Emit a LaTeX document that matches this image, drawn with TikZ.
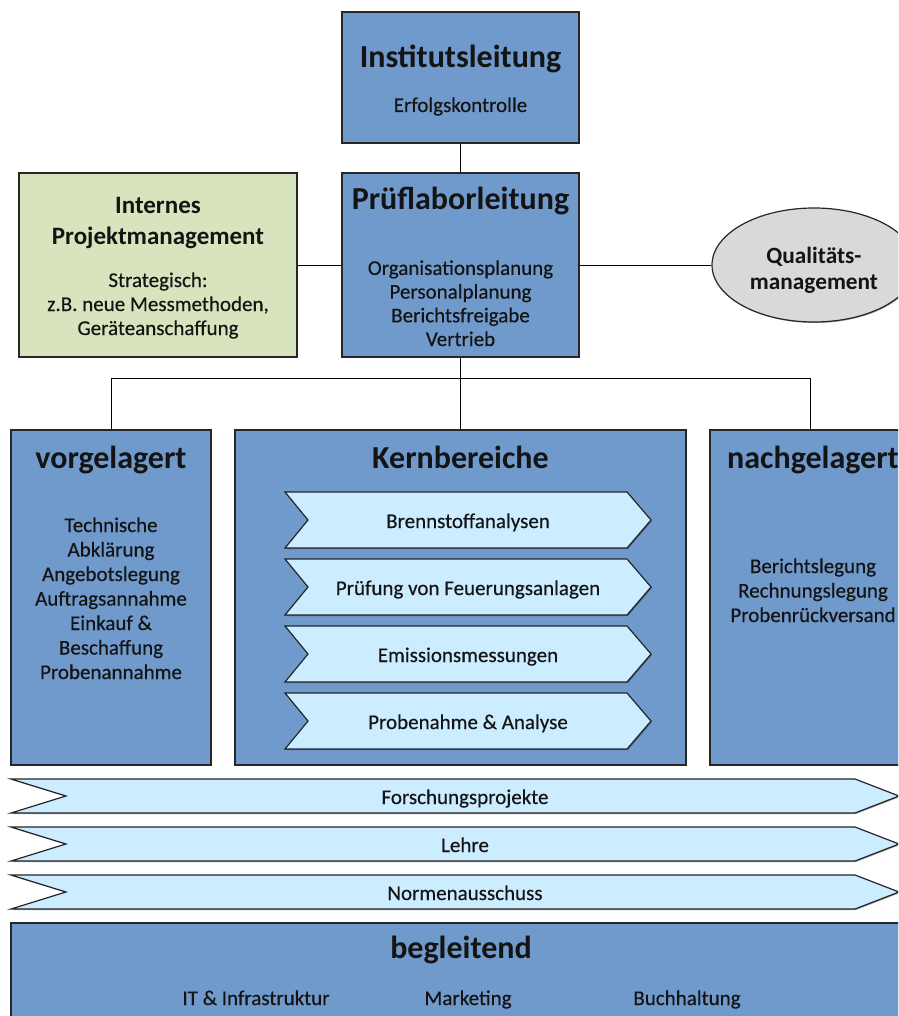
\documentclass[tikz,border=0pt]{standalone}
\usepackage{fontspec}
\setmainfont{Carlito}
\newfontfamily\bdfam{Carlito}[FakeBold=0.35]
\usetikzlibrary{shapes.geometric,shadows}

\definecolor{boxblue}{RGB}{112,153,204}
\definecolor{boxgreen}{RGB}{215,228,189}
\definecolor{ovalgray}{RGB}{217,217,217}
\definecolor{chevblue}{RGB}{204,236,255}
\definecolor{edgegray}{RGB}{38,38,38}

\newcommand\ttlfont{\fontsize{32}{38}\selectfont\bfseries}
\newcommand\hdfont{\fontsize{25}{31}\selectfont\bfseries}
\newcommand\qmfont{\fontsize{23.3}{26}\selectfont\bfseries}
\newcommand\bdfont{\bdfam\fontsize{21}{24}\selectfont}

\begin{document}
\begin{tikzpicture}[
  x=1pt, y=-1pt,
  softshadow/.style={drop shadow={shadow xshift=1pt,shadow yshift=-1pt,opacity=0.35,fill=black}},
  unit/.style={rectangle, draw=edgegray, line width=1.2pt, fill=boxblue, inner sep=0pt, softshadow},
  oval/.style={ellipse, draw=edgegray, line width=1.2pt, fill=ovalgray, inner sep=0pt, softshadow},
  chev/.style={draw=edgegray, line width=1.2pt, fill=chevblue, line join=miter, softshadow},
  conn/.style={draw=black, line width=1pt},
  % multi-line texts are placed by the baseline of their last line
  txt/.style={inner sep=0pt, align=center, anchor=base, text=black!92},
  ttl/.style={txt, font=\ttlfont},
  hd/.style={txt, font=\hdfont},
  bd/.style={txt, font=\bdfont},
]
\useasboundingbox (0,0) rectangle (898,1016);
\begin{scope}
\clip (0,0) rectangle (898,1016);

% management level
\node[unit, minimum width=237pt, minimum height=131pt] (inst) at (460.5,77.5) {};
\node[unit, minimum width=237pt, minimum height=184pt] (pruef) at (460.5,265) {};
\node[unit, fill=boxgreen, minimum width=278pt, minimum height=184pt] (intern) at (158,265) {};
\node[oval, minimum width=204pt, minimum height=114pt] (qm) at (814,265) {};

\node[ttl] (inst-t) at (460.5,68) {Institutsleitung};
\node[bd]  (inst-b) at (460.5,112) {Erfolgskontrolle};

\node[ttl] (pruef-t) at (460.5,210) {Prüflaborleitung};
\node[bd, font=\bdfam\fontsize{21}{23.7}\selectfont] (pruef-b) at (460.5,346) {Organisationsplanung\\Personalplanung\\Berichtsfreigabe\\Vertrieb};

\node[hd] (intern-t) at (158,244) {Internes\\Projektmanagement};
\node[bd] (intern-b) at (158,335) {Strategisch:\\z.B. neue Messmethoden,\\Geräteanschaffung};

\node[txt, font=\qmfont] (qm-t) at (814,289) {Qualitäts-\\management};

% connectors of the management level
\draw[conn] (inst.south) -- (pruef.north);
\draw[conn] (intern.east) -- (pruef.west);
\draw[conn] (pruef.east) -- (qm.west);

% process areas
\node[unit, minimum width=200pt, minimum height=335pt] (vor) at (111,597.5) {};
\node[unit, minimum width=451pt, minimum height=335pt] (kern) at (460.5,597.5) {};
\node[unit, minimum width=200pt, minimum height=335pt] (nach) at (810,597.5) {};

\coordinate (bus) at (460.5,378.5);
\draw[conn] (pruef.south) -- (bus);
\draw[conn] (vor.north) |- (bus) -| (nach.north);
\draw[conn] (bus) -- (kern.north);

\node[ttl] (vor-t)  at (111,468) {vorgelagert};
\node[ttl] (kern-t) at (460.5,468) {Kernbereiche};
\node[ttl] (nach-t) at (813,468) {nachgelagert};

\node[bd, font=\bdfam\fontsize{21}{24.5}\selectfont] (vor-b) at (111,679) {Technische\\Abklärung\\Angebotslegung\\Auftragsannahme\\Einkauf \&\\Beschaffung\\Probenannahme};
\node[bd, font=\bdfam\fontsize{21}{24.5}\selectfont] (nach-b) at (813,622) {Berichtslegung\\Rechnungslegung\\Probenrückversand};

% core processes as chevrons
\foreach \top/\name/\label in {492/c1/Brennstoffanalysen, 559/c2/Prüfung von Feuerungsanlagen, 626/c3/Emissionsmessungen, 693/c4/Probenahme \& Analyse}{
  \draw[chev] (285,\top) -- (627,\top) -- (651,\top+28) -- (627,\top+56) -- (285,\top+56) -- (308,\top+28) -- cycle;
  \node[bd] (\name) at (468,\top+36) {\label};
}

% cross-cutting bands
\foreach \top/\name/\label in {779/f1/Forschungsprojekte, 827/f2/Lehre, 875/f3/Normenausschuss}{
  \draw[chev] (11,\top) -- (855,\top) -- (899,\top+17) -- (855,\top+34) -- (11,\top+34) -- (66,\top+17) -- cycle;
  \node[bd] (\name) at (465,\top+25) {\label};
}

% supporting functions
\node[unit, minimum width=901pt, minimum height=107pt] (begl) at (461.5,976.5) {};
\node[ttl] (begl-t) at (461,958) {begleitend};
\node[bd] (begl-1) at (256,1005) {IT \& Infrastruktur};
\node[bd] (begl-2) at (468,1005) {Marketing};
\node[bd] (begl-3) at (687,1005) {Buchhaltung};

\end{scope}
\end{tikzpicture}
\end{document}
